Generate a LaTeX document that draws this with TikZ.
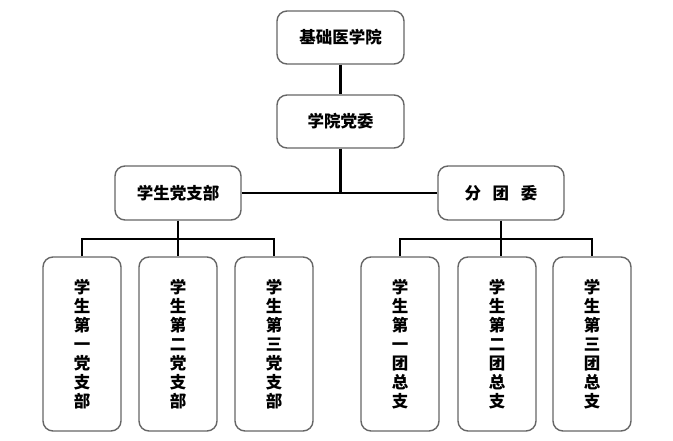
\documentclass[tikz,border=0pt]{standalone}
\usepackage{fontspec}
\newfontfamily\cjk{Noto Sans CJK SC}
\tikzset{
    box/.style={draw=black!60, line width=1.4pt, rounded corners=10pt, font=\cjk\bfseries\fontsize{16.5}{19}\selectfont, align=center, inner sep=0pt},
    topbox/.style={box, minimum width=127pt, minimum height=53pt},
    midbox/.style={box, minimum width=126pt, minimum height=54pt},
    leafbox/.style={box, minimum width=78pt, minimum height=174pt},
    link/.style={line width=2.4pt}
}
\begin{document}
\begin{tikzpicture}[x=1pt, y=-1pt]
    \useasboundingbox (0,0) rectangle (673,441);
    \node[topbox] (jc) at (340.5,37.5) {基础医学院};
    \node[topbox] (dw) at (340.5,121.5) {学院党委};
    \node[midbox] (dzb) at (178,193) {学生党支部};
    \node[midbox] (ftw) at (501,193) {分\hspace{0.7em}团\hspace{0.7em}委};
    \node[leafbox] (d1) at (82,344) {学\\生\\第\\一\\党\\支\\部};
    \node[leafbox] (d2) at (178,344) {学\\生\\第\\二\\党\\支\\部};
    \node[leafbox] (d3) at (274,344) {学\\生\\第\\三\\党\\支\\部};
    \node[leafbox] (t1) at (400,344) {学\\生\\第\\一\\团\\总\\支};
    \node[leafbox] (t2) at (497,344) {学\\生\\第\\二\\团\\总\\支};
    \node[leafbox] (t3) at (592,344) {学\\生\\第\\三\\团\\总\\支};
    \coordinate (hub) at (dw.south |- dzb.east);
    \coordinate (lbar) at (dzb.south |- 0,239);
    \coordinate (rbar) at (ftw.south |- 0,239);
    \draw[link] (jc.south) -- (dw.north);
    \draw[link] (dw.south) -- (hub);
    \draw[link] (dzb.east) -- (ftw.west);
    \draw[link] (dzb.south) -- (lbar);
    \draw[link] (d1.north) |- (lbar) -| (d3.north);
    \draw[link] (lbar) -- (d2.north);
    \draw[link] (ftw.south) -- (rbar);
    \draw[link] (t1.north) |- (rbar) -| (t3.north);
    \draw[link] (rbar) -- (rbar |- t2.north);
\end{tikzpicture}
\end{document}
